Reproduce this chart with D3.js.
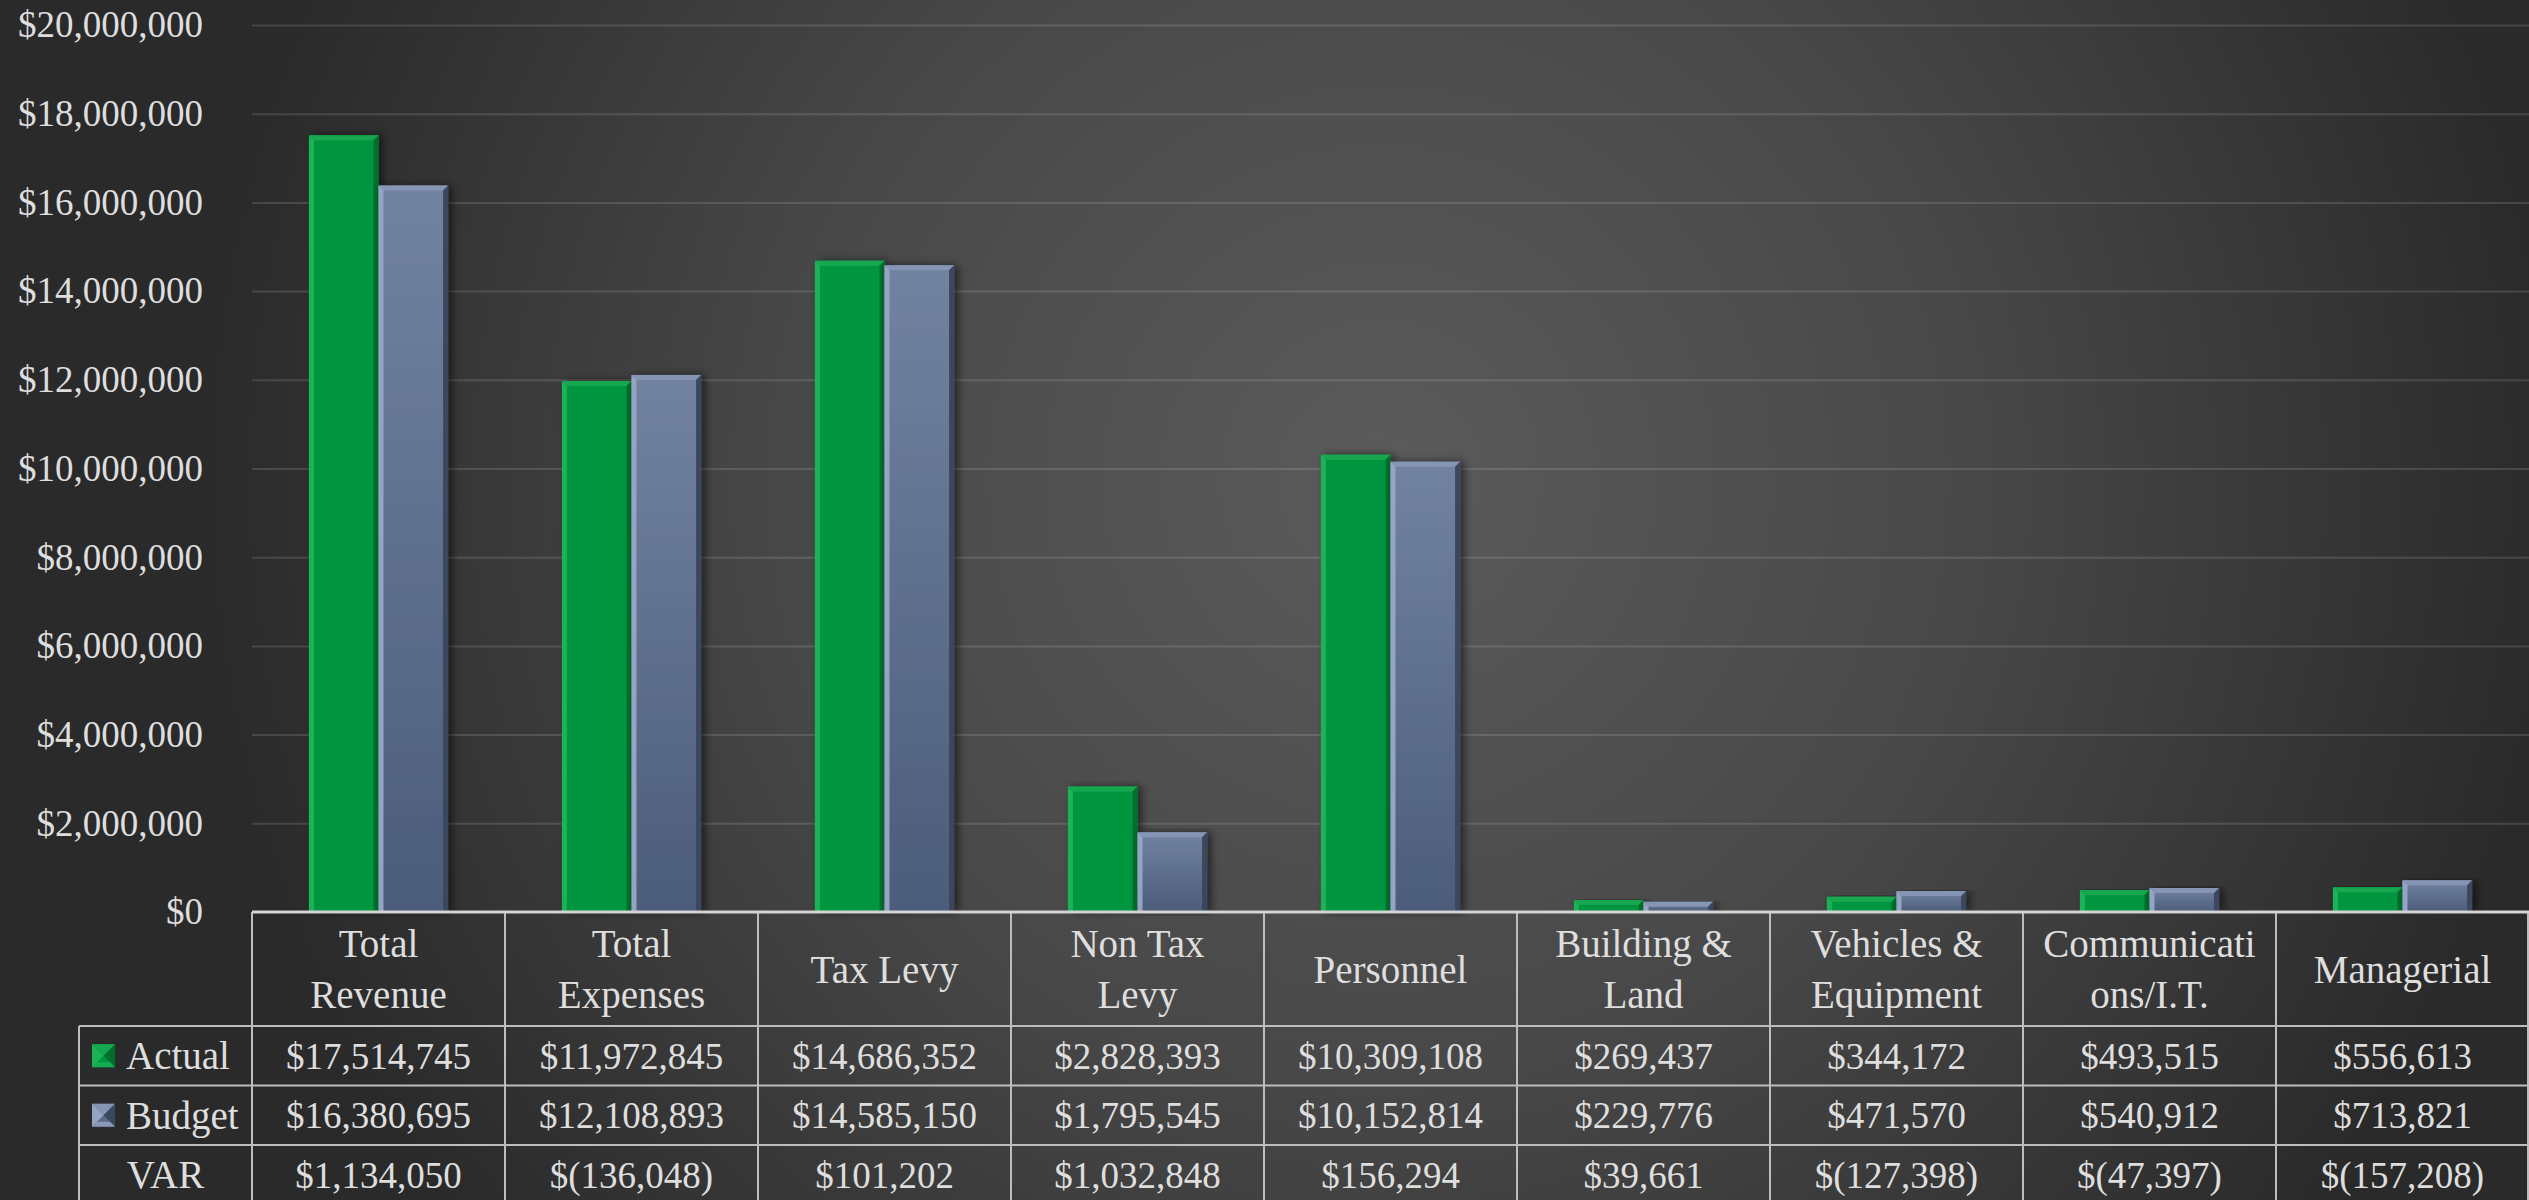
<!DOCTYPE html>
<html>
<head>
<meta charset="utf-8">
<script src="https://cdn.jsdelivr.net/npm/d3@7"></script>
<style>
  html, body { margin: 0; padding: 0; background: #2b2b2b; }
  svg { display: block; }
  text { font-family: "Liberation Serif", "DejaVu Serif", serif; fill: #dedede; }
</style>
</head>
<body>
<div id="chart"></div>
<script>
// ---- data ----
const categories = ["Total Revenue", "Total Expenses", "Tax Levy", "Non Tax Levy", "Personnel",
  "Building & Land", "Vehicles & Equipment", "Communications/I.T.", "Managerial"];
const headerLines = [["Total", "Revenue"], ["Total", "Expenses"], ["Tax Levy"], ["Non Tax", "Levy"],
  ["Personnel"], ["Building &", "Land"], ["Vehicles &", "Equipment"], ["Communicati", "ons/I.T."], ["Managerial"]];
const actual = [17514745, 11972845, 14686352, 2828393, 10309108, 269437, 344172, 493515, 556613];
const budget = [16380695, 12108893, 14585150, 1795545, 10152814, 229776, 471570, 540912, 713821];
const variance = [1134050, -136048, 101202, 1032848, 156294, 39661, -127398, -47397, -157208];
const seriesNames = ["Actual", "Budget"];
const yTicks = [0, 2000000, 4000000, 6000000, 8000000, 10000000, 12000000, 14000000, 16000000, 18000000, 20000000];

// ---- layout ----
const W = 2529, H = 1200;
const plotLeft = 252, plotRight = 2529, yTop = 25, yBase = 912;
const legendLeft = 79, headerH = 114, rowH = 59.5;
const fontSize = 37;      // numbers
const wordSize = 39;      // words (palatino-ish width)

const svg = d3.select("#chart").append("svg")
  .attr("width", W).attr("height", H);

const defs = svg.append("defs");
const bg = defs.append("radialGradient").attr("id", "bg")
  .attr("gradientUnits", "userSpaceOnUse")
  .attr("cx", 1380).attr("cy", 480).attr("r", 1180);
bg.append("stop").attr("offset", 0).attr("stop-color", "#5b5b5b");
bg.append("stop").attr("offset", 0.5).attr("stop-color", "#484848");
bg.append("stop").attr("offset", 1).attr("stop-color", "#2a2a2a");

const blueGrad = defs.append("linearGradient").attr("id", "blueBody")
  .attr("x1", 0).attr("y1", 0).attr("x2", 0).attr("y2", 1);
blueGrad.append("stop").attr("offset", 0).attr("stop-color", "#7283a2");
blueGrad.append("stop").attr("offset", 1).attr("stop-color", "#4c5c7b");

const shadow = defs.append("filter").attr("id", "shadow")
  .attr("x", "-20%").attr("y", "-5%").attr("width", "150%").attr("height", "110%");
shadow.append("feDropShadow").attr("dx", 4).attr("dy", 0)
  .attr("stdDeviation", 4).attr("flood-color", "#000").attr("flood-opacity", 0.55);

svg.append("rect").attr("width", W).attr("height", H).attr("fill", "url(#bg)");

// ---- scales ----
const y = d3.scaleLinear().domain([0, 20000000]).range([yBase, yTop]);
const x0 = d3.scaleBand().domain(categories).range([plotLeft, plotRight])
  .paddingInner(0.45).paddingOuter(0.225);
const x1 = d3.scaleBand().domain(seriesNames).range([0, x0.bandwidth()]);

const money = d3.format("$,");
const fmtVar = v => v < 0 ? "$(" + d3.format(",")(-v) + ")" : money(v);

// gridlines
const grid = svg.append("g").attr("transform", `translate(${plotLeft},0)`)
  .call(d3.axisRight(y).tickValues(yTicks.slice(1)).tickSize(plotRight - plotLeft).tickFormat(""));
grid.select(".domain").remove();
grid.selectAll("line").attr("stroke", "rgba(255,255,255,0.13)").attr("stroke-width", 2);

// y axis labels
const yAxis = svg.append("g").attr("transform", "translate(203,0)")
  .call(d3.axisLeft(y).tickValues(yTicks).tickSize(0).tickPadding(0).tickFormat(money));
yAxis.select(".domain").remove();
yAxis.selectAll("text")
  .attr("font-size", fontSize).attr("fill", "#dedede")
  .style("font-family", '"Liberation Serif", serif');

// ---- bars ----
const palettes = {
  Actual: { body: "#00963f", top: "#17a84f", left: "#1cb257", right: "#006e2c" },
  Budget: { body: "url(#blueBody)", top: "#8595b3", left: "#94a4c2", right: "#3b475f" }
};

const rows = categories.map((c, i) => ({ cat: c, Actual: actual[i], Budget: budget[i] }));
const barData = rows.flatMap(r => seriesNames.map(s => ({ cat: r.cat, key: s, value: r[s] })));

const bars = svg.append("g").selectAll("g.bar").data(barData).enter()
  .append("g").attr("class", "bar");

bars.each(function (d) {
  const g = d3.select(this);
  const bx = x0(d.cat) + x1(d.key), bw = x1.bandwidth();
  const by = y(d.value), bh = yBase - by;
  const b = Math.min(5, bh / 2);
  const p = palettes[d.key];
  g.append("rect").attr("x", bx).attr("y", by).attr("width", bw).attr("height", bh)
    .attr("fill", p.body).attr("filter", "url(#shadow)");
  g.append("polygon").attr("points", [[bx, by], [bx + bw, by], [bx + bw - b, by + b], [bx + b, by + b]].join(" "))
    .attr("fill", p.top);
  g.append("polygon").attr("points", [[bx, by], [bx + b, by + b], [bx + b, yBase], [bx, yBase]].join(" "))
    .attr("fill", p.left);
  g.append("polygon").attr("points", [[bx + bw, by], [bx + bw - b, by + b], [bx + bw - b, yBase], [bx + bw, yBase]].join(" "))
    .attr("fill", p.right);
});

// ---- data table ----
const lineCol = "#bdbdbd";
const table = svg.append("g");
const step = x0.step();
const edges = categories.map(c => x0(c) - x0.paddingOuter() * step);
const tableBottom = yBase + headerH + rowH * 3;

// horizontal lines
[yBase + headerH, yBase + headerH + rowH, yBase + headerH + 2 * rowH].forEach(yy => {
  table.append("line").attr("x1", legendLeft).attr("x2", plotRight).attr("y1", yy).attr("y2", yy)
    .attr("stroke", lineCol).attr("stroke-width", 2);
});
// vertical lines
edges.concat([plotRight - 1]).forEach(xx => {
  table.append("line").attr("x1", xx).attr("x2", xx).attr("y1", yBase).attr("y2", tableBottom)
    .attr("stroke", lineCol).attr("stroke-width", 2);
});
table.append("line").attr("x1", legendLeft).attr("x2", legendLeft)
  .attr("y1", yBase + headerH).attr("y2", tableBottom).attr("stroke", lineCol).attr("stroke-width", 2);
// category axis line
table.append("line").attr("x1", plotLeft).attr("x2", plotRight).attr("y1", yBase).attr("y2", yBase)
  .attr("stroke", "#d4d4d4").attr("stroke-width", 3);

// header labels
const lineH = 51;
categories.forEach((c, i) => {
  const lines = headerLines[i];
  const cx = x0(c) + x0.bandwidth() / 2;
  const cy = yBase + headerH / 2 - (lines.length - 1) * lineH / 2;
  lines.forEach((t, k) => {
    table.append("text").attr("x", cx).attr("y", cy + k * lineH).attr("dy", "0.35em")
      .attr("text-anchor", "middle").attr("font-size", wordSize).text(t);
  });
});

// value rows
const tableRows = [
  { name: "Actual", values: actual.map(money) },
  { name: "Budget", values: budget.map(money) },
  { name: "VAR", values: variance.map(fmtVar) }
];
tableRows.forEach((r, ri) => {
  const cy = yBase + headerH + rowH * ri + rowH / 2;
  r.values.forEach((v, i) => {
    table.append("text").attr("x", x0(categories[i]) + x0.bandwidth() / 2).attr("y", cy)
      .attr("dy", "0.35em").attr("text-anchor", "middle").attr("font-size", fontSize).text(v);
  });
  if (r.name === "VAR") {
    table.append("text").attr("x", (legendLeft + plotLeft) / 2).attr("y", cy).attr("dy", "0.35em")
      .attr("text-anchor", "middle").attr("font-size", wordSize).text(r.name);
  } else {
    const p = palettes[r.name];
    const kx = 92, ks = 23, ky = cy - ks / 2;
    const k = table.append("g");
    const c = [kx + ks / 2, ky + ks / 2];
    k.append("rect").attr("x", kx).attr("y", ky).attr("width", ks).attr("height", ks)
      .attr("fill", r.name === "Actual" ? "#00963f" : "#5a6a88");
    k.append("polygon").attr("points", [[kx, ky], [kx + ks, ky], c].join(" ")).attr("fill", p.top);
    k.append("polygon").attr("points", [[kx, ky], [kx, ky + ks], c].join(" ")).attr("fill", p.left);
    k.append("polygon").attr("points", [[kx + ks, ky], [kx + ks, ky + ks], c].join(" ")).attr("fill", p.right);
    k.append("polygon").attr("points", [[kx, ky + ks], [kx + ks, ky + ks], [kx + ks - 5, ky + ks - 5], [kx + 5, ky + ks - 5]].join(" "))
      .attr("fill", p.left).attr("opacity", 0.8);
    table.append("text").attr("x", 126).attr("y", cy).attr("dy", "0.35em")
      .attr("font-size", wordSize).text(r.name);
  }
});
</script>
</body>
</html>
